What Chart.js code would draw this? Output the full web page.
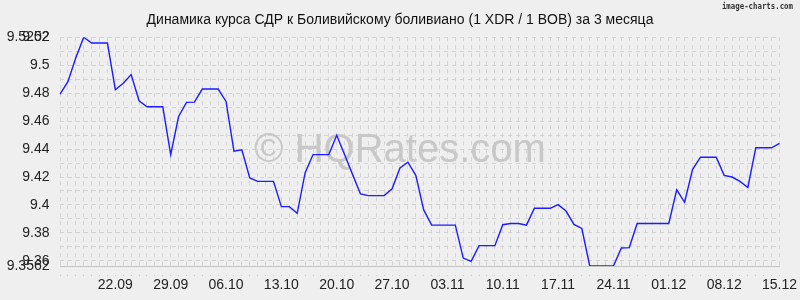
<!DOCTYPE html>
<html><head><meta charset="utf-8">
<script src="https://cdn.jsdelivr.net/npm/chart.js@4"></script>
<style>html,body{margin:0;padding:0;background:#efefef;overflow:hidden}</style>
</head><body>
<canvas id="c" width="800" height="300"></canvas>
<script>
const titleText = 'Динамика курса СДР к Боливийскому боливиано (1 XDR / 1 BOB) за 3 месяца';
const dates = [
'15.09','16.09','17.09','18.09','19.09','20.09','21.09','22.09','23.09','24.09','25.09','26.09','27.09','28.09','29.09','30.09',
'01.10','02.10','03.10','04.10','05.10','06.10','07.10','08.10','09.10','10.10','11.10','12.10','13.10','14.10','15.10','16.10',
'17.10','18.10','19.10','20.10','21.10','22.10','23.10','24.10','25.10','26.10','27.10','28.10','29.10','30.10','31.10',
'01.11','02.11','03.11','04.11','05.11','06.11','07.11','08.11','09.11','10.11','11.11','12.11','13.11','14.11','15.11','16.11',
'17.11','18.11','19.11','20.11','21.11','22.11','23.11','24.11','25.11','26.11','27.11','28.11','29.11','30.11',
'01.12','02.12','03.12','04.12','05.12','06.12','07.12','08.12','09.12','10.12','11.12','12.12','13.12','14.12','15.12'];
const rates = [
9.4795, 9.4884, 9.5055, 9.5202, 9.5161, 9.5161, 9.5161, 9.4826, 9.4872, 9.4935,
9.4747, 9.4704, 9.4704, 9.4704, 9.4361, 9.4634, 9.4735, 9.4737, 9.4831, 9.4831,
9.4831, 9.4742, 9.4385, 9.4395, 9.4193, 9.4169, 9.4169, 9.4169, 9.3988, 9.3988,
9.3940, 9.4229, 9.4361, 9.4361, 9.4361, 9.4499, 9.4359, 9.4219, 9.4079, 9.4067,
9.4067, 9.4067, 9.4116, 9.4265, 9.4306, 9.4212, 9.3964, 9.3855, 9.3855, 9.3855,
9.3855, 9.3619, 9.3595, 9.3708, 9.3708, 9.3708, 9.3858, 9.3867, 9.3867, 9.3855,
9.3976, 9.3976, 9.3976, 9.4002, 9.3956, 9.3860, 9.3831, 9.3562, 9.3562, 9.3562,
9.3562, 9.3691, 9.3694, 9.3867, 9.3867, 9.3867, 9.3867, 9.3867, 9.4108, 9.4019,
9.4253, 9.4342, 9.4342, 9.4342, 9.4212, 9.4200, 9.4169, 9.4125, 9.4410, 9.4410,
9.4410, 9.4441];
const xTickLabels = ['22.09','29.09','06.10','13.10','20.10','27.10','03.11','10.11','17.11','24.11','01.12','08.12','15.12'];
const yMin = 9.3562, yMax = 9.5202;
const yGridValues = [9.3562, 9.36, 9.37, 9.38, 9.39, 9.40, 9.41, 9.42, 9.43, 9.44, 9.45, 9.46, 9.47, 9.48, 9.49, 9.50, 9.51, 9.52, 9.5202];
const yLabelValues = [9.3562, 9.36, 9.38, 9.40, 9.42, 9.44, 9.46, 9.48, 9.50, 9.52, 9.5202];
const yLabelTexts  = ['9.3562','9.36','9.38','9.4','9.42','9.44','9.46','9.48','9.5','9.52','9.5202'];
const watermark = '© HQRates.com';
const brand = 'image-charts.com';

const FONT = "'Liberation Sans', Arial, sans-serif";

const bgPlugin = {
  id: 'bg',
  beforeDraw(chart) {
    const ctx = chart.ctx;
    ctx.save();
    ctx.fillStyle = '#efefef';
    ctx.fillRect(0, 0, chart.width, chart.height);
    ctx.restore();
  }
};
const textPlugin = {
  id: 'texts',
  beforeDatasetsDraw(chart) {
    const ctx = chart.ctx;
    ctx.save();
    ctx.font = "40px " + FONT;
    ctx.fillStyle = '#c8c8c8';
    ctx.textAlign = 'center';
    ctx.textBaseline = 'alphabetic';
    ctx.fillText(watermark, 400, 161.5);
    ctx.restore();
  },
  afterDraw(chart) {
    const ctx = chart.ctx;
    ctx.save();
    ctx.font = "14px " + FONT;
    ctx.fillStyle = '#111';
    ctx.textAlign = 'center';
    ctx.textBaseline = 'alphabetic';
    ctx.fillText(titleText, 400, 24);
    ctx.restore();
    ctx.save();
    ctx.translate(793, 9);
    ctx.scale(0.82, 1);
    ctx.font = "bold 9px 'DejaVu Sans Mono', monospace";
    ctx.fillStyle = '#333';
    ctx.textAlign = 'right';
    ctx.textBaseline = 'alphabetic';
    ctx.fillText(brand, 0, 0);
    ctx.restore();
  }
};

new Chart(document.getElementById('c'), {
  type: 'line',
  data: {
    labels: dates,
    datasets: [{
      data: rates,
      borderColor: '#1c1cff',
      borderWidth: 1.4,
      pointRadius: 0,
      tension: 0,
      fill: false
    }]
  },
  options: {
    responsive: false,
    animation: false,
    devicePixelRatio: 1,
    layout: { padding: { left: 0, right: 20.5, top: 37.3, bottom: 0 } },
    plugins: {
      legend: { display: false },
      tooltip: { enabled: false },
      title: { display: false }
    },
    scales: {
      x: {
        type: 'category',
        afterFit(scale) { scale.height = 34; },
        ticks: {
          autoSkip: false,
          maxRotation: 0,
          minRotation: 0,
          padding: 1,
          color: '#222',
          font: { family: FONT, size: 14 },
          callback(val) {
            const l = this.getLabelForValue(val);
            return xTickLabels.includes(l) ? l : '';
          }
        },
        grid: {
          color: '#d3d3d3',
          lineWidth: 1,
          drawTicks: true,
          tickLength: 10,
          tickColor: '#c8c8c8',
          tickBorderDash: [0, 8, 2, 10]
        },
        border: { display: true, color: '#c4c4c4', width: 1, dash: [4, 4] }
      },
      y: {
        type: 'linear',
        min: yMin,
        max: yMax,
        afterFit(scale) { scale.width = 60; },
        afterBuildTicks(scale) { scale.ticks = yGridValues.map(v => ({ value: v })); },
        ticks: {
          autoSkip: false,
          padding: 10.5,
          color: '#222',
          font: { family: FONT, size: 14 },
          callback(val) {
            const i = yLabelValues.findIndex(v => Math.abs(v - val) < 1e-9);
            return i >= 0 ? yLabelTexts[i] : '';
          }
        },
        grid: { color: '#d3d3d3', lineWidth: 1, drawTicks: false },
        border: { display: false, dash: [4, 4] }
      }
    }
  },
  plugins: [bgPlugin, textPlugin]
});
</script>
</body></html>
